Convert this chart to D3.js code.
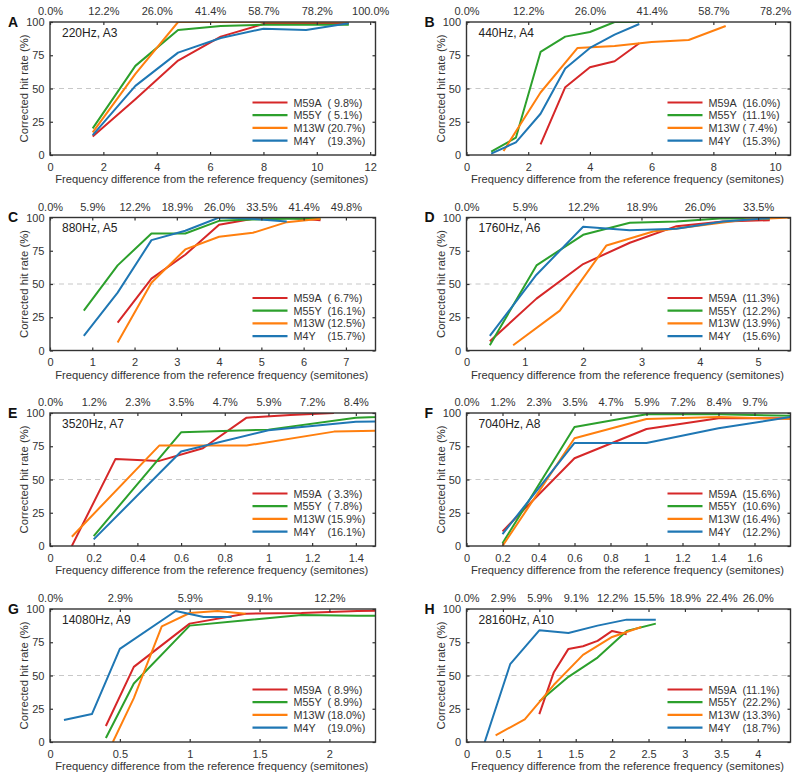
<!DOCTYPE html>
<html>
<head>
<meta charset="utf-8">
<script src="https://cdn.jsdelivr.net/npm/d3@7"></script>
<style>
  html, body { margin: 0; padding: 0; background: #fff; }
  svg { display: block; font-family: "Liberation Sans", Arial, sans-serif; }
</style>
</head>
<body>
<svg id="chart" width="800" height="779"></svg>
<script>
// ---------------- DATA ----------------
const seriesNames = ["M59A", "M55Y", "M13W", "M4Y"];
const seriesColors = ["#d62728", "#2ca02c", "#ff7f0e", "#1f77b4"];

const panelLetters = ["A", "B", "C", "D", "E", "F", "G", "H"];
const panelTitles = ["220Hz, A3", "440Hz, A4", "880Hz, A5", "1760Hz, A6",
                     "3520Hz, A7", "7040Hz, A8", "14080Hz, A9", "28160Hz, A10"];
const xMax = [12.2, 10.5, 7.7, 5.555, 1.49, 1.8, 2.33, 4.45];

const xTicks = [
  [0, 2, 4, 6, 8, 10, 12],
  [0, 2, 4, 6, 8, 10],
  [0, 1, 2, 3, 4, 5, 6, 7],
  [0, 1, 2, 3, 4, 5],
  [0, 0.2, 0.4, 0.6, 0.8, 1, 1.2, 1.4],
  [0, 0.2, 0.4, 0.6, 0.8, 1, 1.2, 1.4, 1.6],
  [0, 0.5, 1, 1.5, 2],
  [0, 0.5, 1, 1.5, 2, 2.5, 3, 3.5, 4]
];
const topTickLabels = [
  ["0.0%", "12.2%", "26.0%", "41.4%", "58.7%", "78.2%", "100.0%"],
  ["0.0%", "12.2%", "26.0%", "41.4%", "58.7%", "78.2%"],
  ["0.0%", "5.9%", "12.2%", "18.9%", "26.0%", "33.5%", "41.4%", "49.8%"],
  ["0.0%", "5.9%", "12.2%", "18.9%", "26.0%", "33.5%"],
  ["0.0%", "1.2%", "2.3%", "3.5%", "4.7%", "5.9%", "7.2%", "8.4%"],
  ["0.0%", "1.2%", "2.3%", "3.5%", "4.7%", "5.9%", "7.2%", "8.4%", "9.7%"],
  ["0.0%", "2.9%", "5.9%", "9.1%", "12.2%"],
  ["0.0%", "2.9%", "5.9%", "9.1%", "12.2%", "15.5%", "18.9%", "22.4%", "26.0%"]
];
const yTicks = [0, 25, 50, 75, 100];

const legendPct = [
  ["( 9.8%)", "( 5.1%)", "(20.7%)", "(19.3%)"],
  ["(16.0%)", "(11.1%)", "( 7.4%)", "(15.3%)"],
  ["( 6.7%)", "(16.1%)", "(12.5%)", "(15.7%)"],
  ["(11.3%)", "(12.2%)", "(13.9%)", "(15.6%)"],
  ["( 3.3%)", "( 7.8%)", "(15.9%)", "(16.1%)"],
  ["(15.6%)", "(10.6%)", "(16.4%)", "(12.2%)"],
  ["( 8.9%)", "( 8.9%)", "(18.0%)", "(19.0%)"],
  ["(11.1%)", "(22.2%)", "(13.3%)", "(18.7%)"]
];

// each panel: [M59A, M55Y, M13W, M4Y], each series a list of [semitones, hit rate %]
const dataA = [
  [[1.6, 14], [3.2, 42], [4.8, 71], [6.4, 89], [8.0, 98.5], [9.6, 99], [11.2, 99]],
  [[1.6, 20], [3.2, 67], [4.8, 94], [6.4, 97], [8.0, 98], [9.6, 98], [11.2, 98]],
  [[1.6, 17], [3.2, 61], [4.8, 100], [6.4, 100], [8.0, 100], [9.6, 100], [11.2, 100]],
  [[1.6, 15], [3.2, 52], [4.8, 77], [6.4, 88], [8.0, 95], [9.6, 94], [11.2, 99]]
];
const dataB = [
  [[2.4, 8], [3.2, 51], [4.0, 66], [4.8, 70.5], [5.6, 84]],
  [[0.8, 2.5], [1.6, 13], [2.4, 77.5], [3.2, 89], [4.0, 92.5], [4.8, 100], [5.6, 100]],
  [[1.2, 3], [2.4, 47], [3.6, 80.5], [4.8, 82], [6.0, 85], [7.2, 86.5], [8.4, 97]],
  [[0.8, 1], [1.6, 9.5], [2.4, 31], [3.2, 65], [4.0, 80.5], [4.8, 90.5], [5.6, 98.5]]
];
const dataC = [
  [[1.6, 21], [2.4, 54], [3.2, 72], [4.0, 94.5], [4.8, 99], [5.6, 100], [6.4, 98]],
  [[0.8, 30], [1.6, 64], [2.4, 88], [3.2, 88], [4.0, 97.5], [4.8, 98.5], [5.6, 99], [6.4, 99]],
  [[1.6, 6], [2.4, 51], [3.2, 76], [4.0, 85.5], [4.8, 88.5], [5.6, 96.5], [6.4, 99]],
  [[0.8, 11], [1.6, 43.5], [2.4, 83], [3.2, 90], [4.0, 100], [4.8, 99], [5.6, 97]]
];
const dataD = [
  [[0.4, 7], [1.2, 39], [2.0, 65], [2.8, 81], [3.6, 93.5], [4.4, 97], [5.2, 98]],
  [[0.4, 4], [1.2, 64], [2.0, 87], [2.8, 96], [3.6, 97], [4.4, 99.5], [5.2, 99]],
  [[0.8, 4], [1.6, 30], [2.4, 79], [3.2, 89.5], [4.0, 94], [4.8, 98.5], [5.6, 100]],
  [[0.4, 11], [1.2, 57], [2.0, 93], [2.8, 90.5], [3.6, 91.5], [4.4, 97], [5.2, 99.5]]
];
const dataE = [
  [[0.1, 0], [0.3, 65.5], [0.5, 64], [0.7, 73.5], [0.9, 96.5], [1.1, 98.5], [1.3, 100]],
  [[0.2, 7.5], [0.6, 85.5], [1.0, 87.5], [1.4, 96.5], [1.8, 99]],
  [[0.1, 7], [0.5, 75.5], [0.9, 75.5], [1.3, 86], [1.7, 87.5]],
  [[0.2, 5], [0.6, 71], [1.0, 87], [1.4, 93.5], [1.8, 94]]
];
const dataF = [
  [[0.2, 11], [0.6, 66], [1.0, 88], [1.4, 96], [1.8, 96]],
  [[0.2, 2], [0.6, 89.5], [1.0, 99], [1.4, 99], [1.8, 98]],
  [[0.2, 0], [0.6, 81], [1.0, 95.5], [1.4, 97], [1.8, 95.5]],
  [[0.2, 9], [0.6, 77.5], [1.0, 77.5], [1.4, 88.5], [1.8, 97]]
];
const dataG = [
  [[0.4, 12], [0.6, 56.5], [1.0, 89], [1.4, 96.5], [1.8, 97], [2.2, 98.5], [2.6, 99]],
  [[0.4, 3], [0.6, 44], [1.0, 87.5], [1.4, 91.5], [1.8, 95.5], [2.2, 95], [2.6, 95]],
  [[0.45, 0], [0.6, 33], [0.8, 87], [1.0, 97], [1.2, 98.5], [1.4, 96.5]],
  [[0.1, 16.5], [0.3, 21], [0.5, 70], [0.9, 98.5], [1.1, 94], [1.3, 94]]
];
const dataH = [
  [[1.0, 21], [1.2, 52.5], [1.4, 70], [1.6, 72], [1.8, 76], [2.0, 83.5], [2.2, 81]],
  [[1.0, 30.5], [1.4, 49], [1.8, 63.5], [2.2, 83.5], [2.6, 89]],
  [[0.4, 5], [0.8, 17], [1.2, 43], [1.6, 65.5], [2.0, 79], [2.4, 86.5]],
  [[0.25, 0], [0.6, 58.5], [1.0, 84], [1.4, 82], [1.8, 87.5], [2.2, 92], [2.6, 92]]
];
const panelData = [dataA, dataB, dataC, dataD, dataE, dataF, dataG, dataH];

// ---------------- LAYOUT ----------------
const colLeft = [50, 466.5];
const colWidth = [325.5, 324];
const rowTop = [22, 217.5, 413, 609];
const plotH = 133;
const FS_TICK = 11;
const FS_LABEL = 11.2;
const FS_LEG = 10.8;

const svg = d3.select("#chart");

panelData.forEach((series, i) => {
  const col = i % 2, row = Math.floor(i / 2);
  const w = colWidth[col], h = plotH;
  const g = svg.append("g").attr("transform", `translate(${colLeft[col]},${rowTop[row]})`);

  const x = d3.scaleLinear().domain([0, xMax[i]]).range([0, w]);
  const y = d3.scaleLinear().domain([0, 100]).range([h, 0]);

  const clipId = "clip" + i;
  g.append("clipPath").attr("id", clipId)
    .append("rect").attr("x", 0).attr("y", 0).attr("width", w).attr("height", h);

  // dashed 50% line
  g.append("line")
    .attr("x1", 0).attr("x2", w).attr("y1", y(50)).attr("y2", y(50))
    .attr("stroke", "#c8c8c8").attr("stroke-width", 1.2).attr("stroke-dasharray", "5,4");

  // series lines
  const line = d3.line().x(d => x(d[0])).y(d => y(d[1]));
  const lg = g.append("g").attr("clip-path", `url(#${clipId})`);
  series.forEach((s, k) => {
    lg.append("path").datum(s)
      .attr("d", line)
      .attr("fill", "none")
      .attr("stroke", seriesColors[k])
      .attr("stroke-width", 2)
      .attr("stroke-linejoin", "round");
  });

  // axes
  const styleAxis = sel => {
    sel.select(".domain").remove();
    sel.selectAll(".tick line").attr("stroke", "#333").attr("stroke-width", 1.2);
    sel.selectAll(".tick text").attr("fill", "#333").style("font-size", FS_TICK + "px")
      .style("font-family", '"Liberation Sans", Arial, sans-serif');
  };
  g.append("g").attr("transform", `translate(0,${h})`)
    .call(d3.axisBottom(x).tickValues(xTicks[i]).tickFormat(d => String(d)).tickSize(-3).tickPadding(8))
    .call(styleAxis);
  g.append("g")
    .call(d3.axisTop(x).tickValues(xTicks[i]).tickFormat((d, j) => topTickLabels[i][j]).tickSize(-3).tickPadding(7))
    .call(styleAxis);
  g.append("g")
    .call(d3.axisLeft(y).tickValues(yTicks).tickSize(-3).tickPadding(5.5))
    .call(styleAxis);
  g.append("g").attr("transform", `translate(${w},0)`)
    .call(d3.axisRight(y).tickValues(yTicks).tickSize(-3).tickFormat(""))
    .call(styleAxis);

  // frame
  g.append("rect").attr("x", 0).attr("y", 0).attr("width", w).attr("height", h)
    .attr("fill", "none").attr("stroke", "#333").attr("stroke-width", 1.4);

  // panel letter
  g.append("text").attr("x", -42).attr("y", 4.5)
    .attr("font-size", 14).attr("font-weight", "bold").attr("fill", "#111")
    .text(panelLetters[i]);

  // title in plot
  g.append("text").attr("x", 12).attr("y", 14.5)
    .attr("font-size", 12).attr("fill", "#222")
    .text(panelTitles[i]);

  // axis labels
  g.append("text").attr("x", w / 2 - 1).attr("y", h + 28)
    .attr("text-anchor", "middle").attr("font-size", FS_LABEL).attr("fill", "#333")
    .text("Frequency difference from the reference frequency (semitones)");
  g.append("text")
    .attr("transform", `translate(-22,${h / 2}) rotate(-90)`)
    .attr("text-anchor", "middle").attr("font-size", 11.3).attr("fill", "#333")
    .text("Corrected hit rate (%)");

  // legend
  const legX = w - 123;
  seriesNames.forEach((name, k) => {
    const ly = 80.5 + k * 12.7;
    g.append("line").attr("x1", legX).attr("x2", legX + 35)
      .attr("y1", ly).attr("y2", ly)
      .attr("stroke", seriesColors[k]).attr("stroke-width", 2.2);
    g.append("text").attr("x", legX + 41).attr("y", ly + 4)
      .attr("font-size", FS_LEG).attr("fill", "#333").text(name);
    g.append("text").attr("x", legX + 75).attr("y", ly + 4)
      .attr("font-size", FS_LEG).attr("fill", "#333").style("white-space", "pre")
      .text(legendPct[i][k]);
  });
});
</script>
</body>
</html>
